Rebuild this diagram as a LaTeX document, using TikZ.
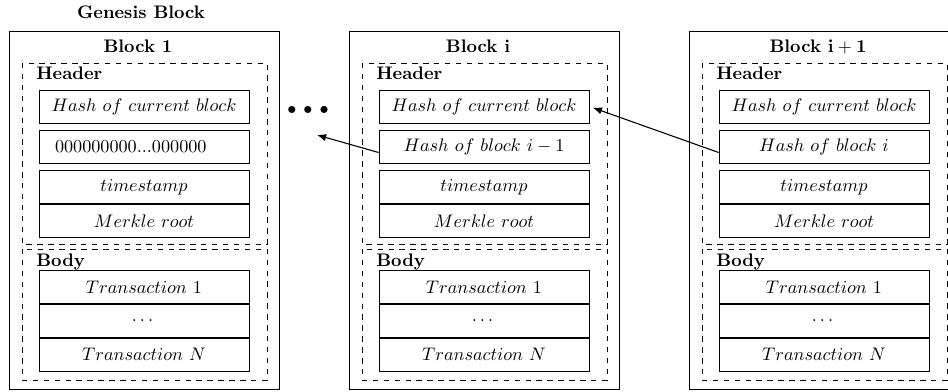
\documentclass[tikz,border=0pt]{standalone}
\usepackage{amsmath}
\usepackage{amssymb}
\usetikzlibrary{positioning,arrows.meta}

\tikzset{
  field/.style={draw, minimum width=115.5pt, minimum height=18.15pt, inner sep=0pt},
  zerofield/.style={align=left, text width=97.9pt, inner xsep=8.8pt},
  hashfield/.style={},
  part/.style={draw, dashed},
  blockbox/.style={draw, minimum width=148.5pt, minimum height=196.9pt},
  tag/.style={font=\bfseries, inner sep=0pt},
  link/.style={-{Latex[length=5pt,width=4pt]}, semithick},
}

\begin{document}
\begin{tikzpicture}[x=0.55pt, y=-0.55pt]
   \useasboundingbox (0,0) rectangle (948,391);
   \clip (0,0) rectangle (948,391);
   \node[tag, anchor=base] (genesis) at (141,18) {Genesis Block};
   \foreach \dx/\id/\ttl/\prev/\opt in {0/a/{Block 1}/{000000000...000000}/zerofield, 340/b/{Block i}/{$Hash\ of\ block\ i-1$}/hashfield, 680/c/{Block $\mathbf{i+1}$}/{$Hash\ of\ block\ i$}/hashfield}
   {
   \begin{scope}[xshift=\dx*0.55pt]
   \node[blockbox] (blk\id) at (144,210) {};
   \node[tag, anchor=base] (ttl\id) at (138,52) {\ttl};
   \draw[part] (22,63) rectangle (267,244);
   \draw[part] (22,249) rectangle (267,380);
   \node[tag, anchor=base west] (head\id) at (36,79) {Header};
   \node[tag, anchor=base west] (body\id) at (36,266) {Body};
   % header fields
   \node[field] (hc\id) at (144,106.5) {$Hash\ of\ current\ block$};
   \node[field, \opt] (hp\id) at (144,146.5) {\prev};
   \node[field] (ts\id) at (144,187) {$timestamp$};
   \node[field, below=0pt of ts\id] (mk\id) {$Merkle\ root$};
   % body fields
   \node[field] (tx\id) at (144,287) {$Transaction\ 1$};
   \node[field, below=0pt of tx\id] (td\id) {$\dots$};
   \node[field, below=0pt of td\id] (tn\id) {$Transaction\ N$};
   \end{scope}
   }
   \node (dots) at (308,110) {$\bullet\,\bullet\,\bullet$};
   \coordinate (gap) at (317,135);
   \draw[link] ([yshift=-3.3pt]hpb.west) -- (gap);
   \draw[link, shorten >=2pt] ([yshift=-3.3pt]hpc.west) -- (hcb.east);
\end{tikzpicture}
\end{document}
